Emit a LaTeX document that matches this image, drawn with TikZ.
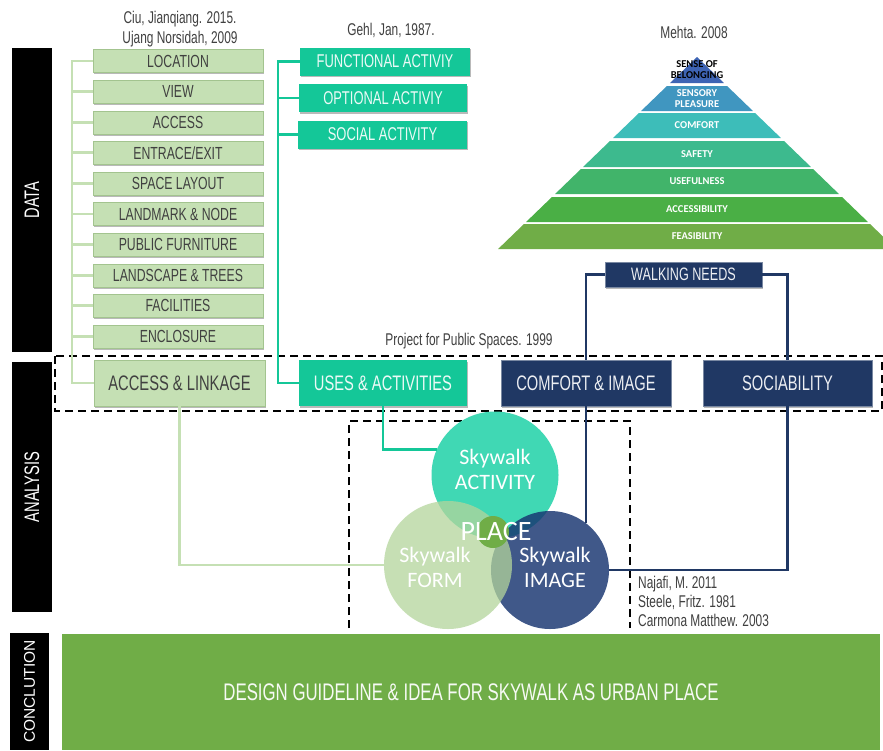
\documentclass[tikz,border=0pt]{standalone}
\usepackage{fontspec}
\setmainfont{Liberation Sans}
\newfontfamily\narrowfont[FakeStretch=0.7]{Liberation Sans}
\newfontfamily\calibfont{Carlito}
\usetikzlibrary{positioning,shadows}

\definecolor{lgreen}{HTML}{C5E0B4}
\definecolor{lgdark}{HTML}{A3C48F}
\definecolor{tealbox}{HTML}{14C798}
\definecolor{navy}{HTML}{203864}
\definecolor{txtgray}{HTML}{404040}
\definecolor{ggreen}{HTML}{70AD47}
\definecolor{actcol}{HTML}{40D8B4}
\definecolor{imgcol}{HTML}{163470}
\definecolor{frmcol}{HTML}{B3D59B}
\definecolor{pyrA}{HTML}{3E64B4}
\definecolor{pyrB}{HTML}{4096C0}
\definecolor{pyrC}{HTML}{3DBDB9}
\definecolor{pyrD}{HTML}{3DBA8E}
\definecolor{pyrE}{HTML}{41B46A}
\definecolor{pyrF}{HTML}{4AAF45}
\definecolor{pyrG}{HTML}{70AD47}

\begin{document}
\begin{tikzpicture}[x=1pt,y=-1pt,
  shade/.style={drop shadow={shadow xshift=1.2pt,shadow yshift=-1.8pt,opacity=.55}},
  databox/.style={shade,draw=lgdark,fill=lgreen,minimum width=170pt,minimum height=23pt,inner sep=0pt,
    text=txtgray,font=\narrowfont\fontsize{17.5}{17.5}\selectfont},
  actbox/.style={shade,fill=tealbox,minimum width=170pt,minimum height=28pt,inner sep=0pt,
    text=white!92!tealbox,font=\narrowfont\fontsize{18.5}{18.5}\selectfont},
  navybox/.style={shade,fill=navy,draw=navy!60!white,minimum width=170pt,minimum height=46pt,inner sep=0pt,
    text=white!92!navy,font=\narrowfont\fontsize{21}{21}\selectfont},
  bar/.style={fill=black,text=white,rotate=90,inner sep=0pt,minimum height=40pt,
    font=\narrowfont\fontsize{21}{21}\selectfont},
  cite/.style={text=txtgray,font=\narrowfont\fontsize{17}{17}\selectfont,inner sep=0pt},
  dline/.style={lgreen,line width=2.7pt},
  aline/.style={tealbox,line width=2.8pt},
  nline/.style={navy,line width=2.2pt},
  dbox/.style={black,line width=2pt,dash pattern=on 8pt off 5pt},
  venn/.style={circle,inner sep=0pt},
  venntext/.style={text=white,align=center,font=\calibfont\fontsize{22}{25}\selectfont},
  pyrtext/.style={text=white,align=center,font=\calibfont\bfseries\fontsize{10.5}{10}\selectfont,inner sep=0pt}]

\useasboundingbox (0,0) rectangle (883,750);
\fill[white] (0,0) rectangle (883,750);

% stage bars
\node[bar,minimum width=304pt] (data) at (32,200) {DATA};
\node[bar,minimum width=250pt] (anl) at (32,487) {ANALYSIS};
\node[bar,minimum width=117pt,minimum height=39pt,font=\fontsize{15.5}{15.5}\selectfont] (conc) at (29.5,691.5) {CONCLUTION};

% data: place attributes
\node[cite,align=center] (cit1) at (180,29) {Ciu, Jianqiang. 2015.\\[3pt]Ujang Norsidah, 2009};
\foreach \t [count=\i] in {LOCATION, VIEW, ACCESS, ENTRACE/EXIT, SPACE LAYOUT, LANDMARK \& NODE,
  PUBLIC FURNITURE, LANDSCAPE \& TREES, FACILITIES, ENCLOSURE}
  \node[databox] (el\i) at (178,{30.6*\i+30.4}) {\t};

% data: activities
\node[cite] (cit2) at (391,30) {Gehl, Jan, 1987.};
\node[actbox] (fa) at (385,61.5) {FUNCTIONAL ACTIVIY};
\node[actbox,minimum width=168pt] (oa) at (383,98) {OPTIONAL ACTIVIY};
\node[actbox,minimum width=169pt] (sa) at (382.5,134.5) {SOCIAL ACTIVITY};

% data: pyramid of needs
\node[cite] (cit3) at (694,32) {Mehta. 2008};
\begin{scope}
\clip (0,0) rectangle (883,750);
\foreach \ya/\yb/\c in {57/83/pyrA, 86/111/pyrB, 113/138/pyrC, 141/167/pyrD,
  169/194/pyrE, 197/222/pyrF, 224/249/pyrG}
  \fill[\c] ({697-1.036*(\ya-57)},\ya) -- ({697+1.036*(\ya-57)},\ya)
    -- ({697+1.036*(\yb-57)},\yb) -- ({697-1.036*(\yb-57)},\yb) -- cycle;
\end{scope}
\node[pyrtext,text=black] (p1) at (697,70) {SENSE OF\\[1pt]BELONGING};
\node[pyrtext] (p2) at (697,98.5) {SENSORY\\[1pt]PLEASURE};
\foreach \t/\y [count=\i from 3] in {COMFORT/125.5, SAFETY/154, USEFULNESS/181.5, ACCESSIBILITY/209.5, FEASIBILITY/236.5}
  \node[pyrtext] (p\i) at (697,\y) {\t};
\node[navybox,minimum width=157pt,minimum height=25pt,font=\narrowfont\fontsize{18}{18}\selectfont] (wn) at (683.5,274.5) {WALKING NEEDS};

% analysis: placemaking diagram
\node[cite] (cit4) at (469,341) {Project for Public Spaces. 1999};
\draw[dbox] (55,356) rectangle (882,411);
\node[databox,minimum width=171pt,minimum height=46pt,font=\narrowfont\fontsize{21}{21}\selectfont] (al) at (179.5,383) {ACCESS \& LINKAGE};
\node[actbox,minimum width=168pt,minimum height=46pt,font=\narrowfont\fontsize{21}{21}\selectfont] (ua) at (383,383) {USES \& ACTIVITIES};
\node[navybox] (cmf) at (586,383) {COMFORT \& IMAGE};
\node[navybox,minimum width=169pt] (soc) at (787.5,383) {SOCIABILITY};

\draw[dbox] (349,628) -- (349,421) -- (630,421) -- (630,628);
\node[venn,fill=actcol,minimum size=127pt] (act) at (495,475) {};
\node[venn,fill=imgcol,fill opacity=.82,minimum size=118pt] (img) at (550,570) {};
\node[venn,fill=frmcol,fill opacity=.75,minimum size=128pt] (frm) at (448,565) {};
\node[venn,fill=ggreen,minimum size=32pt] (plc) at (493,532) {};
\node[venntext] (tact) at (495,469) {Skywalk\\ACTIVITY};
\node[venntext] (tfrm) at (435,567) {Skywalk\\FORM};
\node[venntext] (timg) at (555,567) {Skywalk\\IMAGE};
\node[text=white,font=\calibfont\fontsize{28}{28}\selectfont] (tplc) at (496,532) {PLACE};

\node[cite,anchor=west,align=left] (cit5) at (638,601) {Najafi, M. 2011\\[2pt]Steele, Fritz. 1981\\[2pt]Carmona Matthew. 2003};

% connectors
\coordinate (dl) at (72,61);
\draw[dline] (el1.west) -- (el1.west -| dl) |- (al.west);
\foreach \i in {2,...,10} \draw[dline] (el\i.west) -- (el\i.west -| dl);
\coordinate (gl) at (278,62);
\draw[aline] (fa.west) -- (fa.west -| gl) |- (ua.west);
\draw[aline] (oa.west) -- (oa.west -| gl);
\draw[aline] (sa.west) -- (sa.west -| gl);
\draw[dline] (al.south) |- (frm.west);
\draw[aline] (ua.south) |- (act.156);
\draw[nline] (wn.west) -| (cmf.north);
\draw[nline] (cmf.south) -- (cmf.south |- img.52);
\draw[nline] (wn.east) -| (soc.north);
\draw[nline] (soc.south) |- (img.east);

% conclusion
\node[fill=ggreen,minimum width=818pt,minimum height=116pt,inner sep=0pt,text=white!94!ggreen,
  font=\narrowfont\fontsize{24}{24}\selectfont] (guide) at (471,692) {DESIGN GUIDELINE \& IDEA FOR SKYWALK AS URBAN PLACE};
\end{tikzpicture}
\end{document}
